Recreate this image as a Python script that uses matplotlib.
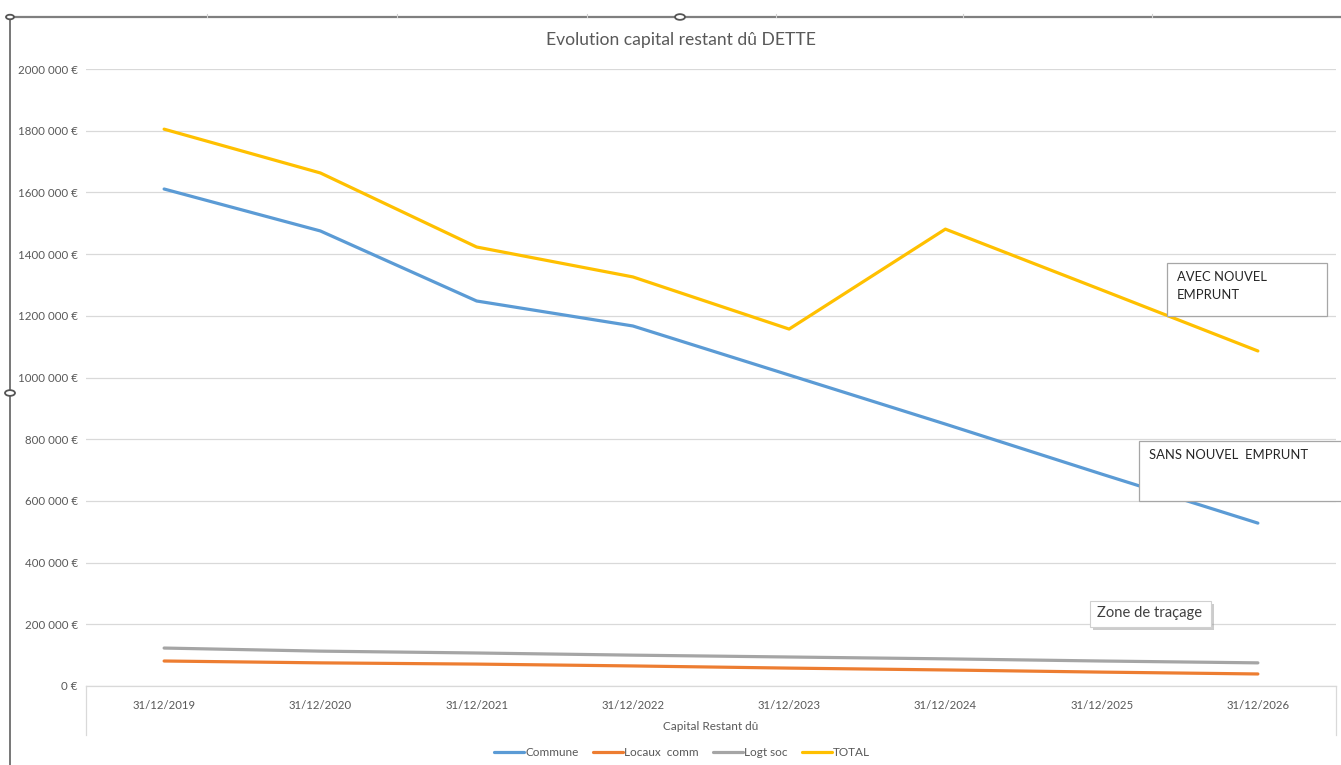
import matplotlib
matplotlib.use("Agg")
import matplotlib.pyplot as plt
from matplotlib.lines import Line2D
from matplotlib.patches import Rectangle, Circle
from matplotlib.ticker import FuncFormatter

plt.rcParams['font.family'] = ['Lato', 'DejaVu Sans']

W = 1341
H = 765

dates = ["31/12/2019", "31/12/2020", "31/12/2021", "31/12/2022",
         "31/12/2023", "31/12/2024", "31/12/2025", "31/12/2026"]
commune = [1611000, 1475000, 1248000, 1167000, 1008000, 849000, 687000, 528000]
locaux = [81000, 75000, 71000, 65000, 58000, 52000, 45000, 39000]
logt = [123000, 113000, 107000, 100000, 94000, 88000, 81000, 75000]
total = [1805000, 1663000, 1423000, 1326000, 1157000, 1481000, 1284000, 1086000]

names = ["Commune", "Locaux  comm", "Logt soc", "TOTAL"]
colors = ["#5B9BD5", "#ED7D31", "#A5A5A5", "#FFC000"]

def fx(x):
    return x / W

def fy(y):
    return 1 - y / H

fig = plt.figure(figsize=(W / 100, H / 100), dpi=100)
fig.patch.set_facecolor("white")

ax = fig.add_axes([fx(86), fy(686), fx(1336) - fx(86), fy(69) - fy(686)])
x = list(range(len(dates)))
for serie, nom, c in zip([commune, locaux, logt, total], names, colors):
    ax.plot(x, serie, color=c, lw=2.3, label=nom, solid_capstyle="round", zorder=3)

ax.set_xlim(-0.5, 7.5)
ax.set_ylim(0, 2000000)
ax.set_yticks(range(0, 2000001, 200000))

def euro(v, pos):
    v = int(round(v))
    if v == 0:
        return "0 €"
    return "%d %03d €" % (v // 1000, v % 1000)

ax.yaxis.set_major_formatter(FuncFormatter(euro))
ax.set_xticks(x)
ax.set_xticklabels(dates)
ax.tick_params(axis="y", length=0, pad=6, labelsize=8.3, labelcolor="#595959")
ax.tick_params(axis="x", length=0, pad=10, labelsize=8.2, labelcolor="#595959")
ax.grid(axis="y", color="#D9D9D9", lw=0.9)
ax.set_axisbelow(True)
for s in ["top", "right", "left"]:
    ax.spines[s].set_visible(False)
ax.spines["bottom"].set_color("#D9D9D9")
ax.spines["bottom"].set_linewidth(0.9)

# boites sous l'axe des categories
for xp in [86, 1336]:
    fig.add_artist(Line2D([fx(xp), fx(xp)], [fy(686), fy(735)], color="#D9D9D9", lw=0.9,
                          transform=fig.transFigure))

fig.text(fx(711), fy(726), "Capital Restant dû", ha="center", va="center",
         fontsize=8.5, color="#595959")
fig.text(fx(681), fy(40), "Evolution capital restant dû DETTE", ha="center", va="center",
         fontsize=12.6, color="#595959")

fig.legend(loc="center", bbox_to_anchor=(fx(682), fy(753)), ncol=4, frameon=False,
           fontsize=8.5, handlelength=2.55, handletextpad=0.1, columnspacing=1.2,
           labelcolor="#595959")

# zones de texte
fig.add_artist(Rectangle((fx(1167), fy(316)), fx(1327) - fx(1167), fy(263) - fy(316),
                         transform=fig.transFigure, facecolor="white", edgecolor="#A6A6A6",
                         lw=0.9, zorder=5))
fig.text(fx(1177), fy(277), "AVEC NOUVEL", fontsize=9.4, color="#262626", va="center", zorder=6)
fig.text(fx(1177), fy(295), "EMPRUNT", fontsize=9.4, color="#262626", va="center", zorder=6)
fig.add_artist(Rectangle((fx(1139), fy(501)), fx(1345) - fx(1139), fy(441) - fy(501),
                         transform=fig.transFigure, facecolor="white", edgecolor="#A6A6A6",
                         lw=0.9, zorder=5))
fig.text(fx(1149), fy(455), "SANS NOUVEL  EMPRUNT", fontsize=9.4, color="#262626",
         va="center", zorder=6)

# info-bulle
fig.add_artist(Rectangle((fx(1093), fy(630)), fx(1211) - fx(1090), fy(601) - fy(627),
                         transform=fig.transFigure, facecolor="#9A9A9A", edgecolor="none",
                         alpha=0.5, zorder=5))
fig.add_artist(Rectangle((fx(1090), fy(627)), fx(1211) - fx(1090), fy(601) - fy(627),
                         transform=fig.transFigure, facecolor="white", edgecolor="#D0D0D0",
                         lw=0.8, zorder=6))
fig.text(fx(1150), fy(613), "Zone de traçage", ha="center", va="center", fontsize=10.6,
         color="#404040", zorder=7)

# cadre de selection
fig.add_artist(Line2D([fx(10), fx(1341)], [fy(17), fy(17)], color="#7F7F7F", lw=1.6,
                      transform=fig.transFigure))
fig.add_artist(Line2D([fx(10), fx(10)], [fy(17), fy(765)], color="#606060", lw=1.2,
                      transform=fig.transFigure))
for xt in [207, 397, 587, 776, 963, 1152]:
    fig.add_artist(Line2D([fx(xt), fx(xt)], [fy(14), fy(17)], color="#D0D0D0", lw=0.8,
                          transform=fig.transFigure))
for (cx, cy) in [(680, 17), (10, 393)]:
    fig.add_artist(Circle((fx(cx), fy(cy)), 5 / W, transform=fig.transFigure,
                          facecolor="white", edgecolor="#555555", lw=1.3, zorder=8))
fig.add_artist(Circle((fx(10), fy(17)), 4 / W, transform=fig.transFigure,
                      facecolor="white", edgecolor="#555555", lw=1.3, zorder=8))

fig.savefig("out.png", dpi=100)
